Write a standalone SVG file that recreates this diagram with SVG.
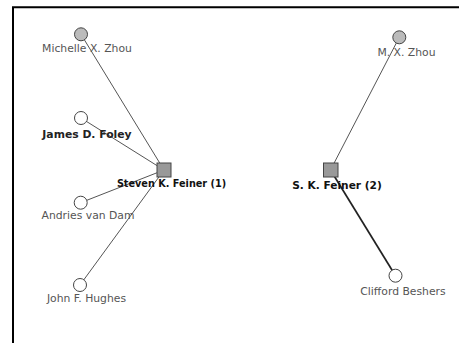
<svg xmlns="http://www.w3.org/2000/svg" width="459" height="343" viewBox="0 0 459 343">
<style>
.edge{stroke:#555;stroke-width:1;fill:none}
.edge.strong{stroke:#222;stroke-width:1.7}
.circ{fill:#fff;stroke:#444;stroke-width:1}
.circ.hi{fill:#bbb}
.sq{fill:#999;stroke:#444;stroke-width:1}
text{font-family:"DejaVu Sans","Liberation Sans",sans-serif;font-size:10.8px;fill:#555;text-anchor:middle}
text.b{font-weight:bold;fill:#111}
</style>
<rect width="459" height="343" fill="#fff"/>
<path d="M13,343 V7.3 H459" stroke="#000" stroke-width="2" fill="none"/>
<g id="connectors">
<line class="edge" x1="81" y1="34.3" x2="164" y2="170"/>
<line class="edge" x1="81" y1="118" x2="164" y2="170"/>
<line class="edge" x1="80.7" y1="202.7" x2="164" y2="170"/>
<line class="edge" x1="80" y1="285" x2="164" y2="170"/>
<line class="edge" x1="399.3" y1="37.3" x2="330.5" y2="170"/>
<line class="edge strong" x1="330.5" y1="170" x2="395.5" y2="275.7"/>
</g>
<g id="michelle"><circle class="circ hi" cx="81" cy="34.3" r="6.5"/><text x="87" y="52.3">Michelle X. Zhou</text></g>
<g id="foley"><circle class="circ" cx="81" cy="118" r="6.5"/><text class="b" x="87" y="138" style="fill:#222">James D. Foley</text></g>
<g id="vandam"><circle class="circ" cx="80.7" cy="202.7" r="6.5"/><text x="88" y="218.5">Andries van Dam</text></g>
<g id="hughes"><circle class="circ" cx="80" cy="285" r="6.5"/><text x="86.5" y="302">John F. Hughes</text></g>
<g id="feiner1"><rect class="sq" x="157" y="163" width="14" height="14"/><text class="b" x="171.5" y="187" style="font-size:9.7px">Steven K. Feiner (1)</text></g>
<g id="mxzhou"><circle class="circ hi" cx="399.3" cy="37.3" r="6.5"/><text x="406.5" y="56">M. X. Zhou</text></g>
<g id="feiner2"><rect class="sq" x="323.5" y="163" width="14.5" height="14"/><text class="b" x="337" y="188.5" style="font-size:10.6px">S. K. Feiner (2)</text></g>
<g id="beshers"><circle class="circ" cx="395.5" cy="275.7" r="6.5"/><text x="403" y="295">Clifford Beshers</text></g>
</svg>
